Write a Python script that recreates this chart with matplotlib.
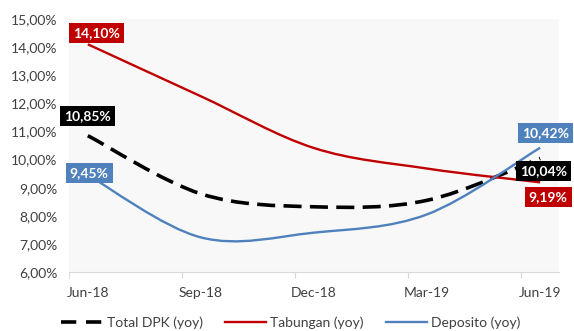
import matplotlib
matplotlib.use("Agg")
import matplotlib.pyplot as plt
from matplotlib.path import Path
from matplotlib.patches import PathPatch
from matplotlib.lines import Line2D
from matplotlib.ticker import FuncFormatter, FixedLocator

plt.rcParams['font.family'] = ['Lato', 'DejaVu Sans']
plt.rcParams['lines.scale_dashes'] = False

# Quarterly growth rates (% yoy), month index from Jun-18
months = [0, 3, 6, 9, 12]
tick_labels = ["Jun-18", "Sep-18", "Dec-18", "Mar-19", "Jun-19"]
total_dpk = [10.85, 8.78, 8.32, 8.55, 10.04]
tabungan = [14.10, 12.25, 10.41, 9.68, 9.19]
deposito = [9.45, 7.23, 7.40, 8.05, 10.42]

series_names = ["Total DPK (yoy)", "Tabungan (yoy)", "Deposito (yoy)"]
colors = ["#000000", "#C00000", "#4F81BD"]
dashes = [(0, (13.0, 6.0)), "-", "-"]
widths = [2.6, 1.7, 1.7]


def smooth_path(xs, ys):
    """Catmull-Rom style Bezier path through the points (spreadsheet smoothing)."""
    pts = list(zip(xs, ys))
    n = len(pts)
    verts = [pts[0]]
    codes = [Path.MOVETO]
    for i in range(n - 1):
        p0 = pts[i - 1] if i > 0 else pts[i]
        p1 = pts[i]
        p2 = pts[i + 1]
        p3 = pts[i + 2] if i + 2 < n else pts[i + 1]
        c1 = (p1[0] + (p2[0] - p0[0]) / 6, p1[1] + (p2[1] - p0[1]) / 6)
        c2 = (p2[0] - (p3[0] - p1[0]) / 6, p2[1] - (p3[1] - p1[1]) / 6)
        verts += [c1, c2, p2]
        codes += [Path.CURVE4] * 3
    return Path(verts, codes)


def pct(v):
    return f"{v:.2f}%".replace(".", ",")


fig = plt.figure(figsize=(5.74, 3.31), dpi=100)
ax = fig.add_axes([69 / 574, 1 - 272 / 331, 490 / 574, 253 / 331])
ax.set_facecolor("#F8F8F8")

all_series = [total_dpk, tabungan, deposito]
for k, ys in enumerate(all_series):
    patch = PathPatch(smooth_path(months, ys), facecolor="none",
                      edgecolor=colors[k], linewidth=widths[k],
                      linestyle=dashes[k], capstyle="butt", zorder=2 + k)
    ax.add_patch(patch)

ax.set_xlim(-0.5, 12.5)
ax.set_ylim(6, 15)
ax.set_yticks([6, 7, 8, 9, 10, 11, 12, 13, 14, 15])
ax.yaxis.set_major_formatter(FuncFormatter(lambda v, _: pct(v)))
ax.set_xticks(months)
ax.set_xticklabels(tick_labels)
ax.xaxis.set_minor_locator(FixedLocator([-0.5, 2.5, 5.5, 8.5, 11.5]))

for s in ["left", "right", "top"]:
    ax.spines[s].set_visible(False)
ax.spines["bottom"].set_color("#D9D9D9")
ax.spines["bottom"].set_linewidth(0.8)
ax.tick_params(axis="y", length=0, pad=8.5, labelsize=10, labelcolor="#404040")
ax.tick_params(axis="x", which="major", length=0, pad=11, labelsize=10,
               labelcolor="#404040")
ax.tick_params(axis="x", which="minor", length=4, width=0.8, color="#D9D9D9")

# Value labels at the first and last point of each series
label_offsets = {
    0: [(0, 14), (2.5, -9)],
    1: [(6.5, 8.3), (5.8, -10.6)],
    2: [(1, 1.5), (4, 10.6)],
}
for k, ys in enumerate(all_series):
    for j, idx in enumerate([0, len(ys) - 1]):
        ax.annotate(pct(ys[idx]), (months[idx], ys[idx]),
                    xytext=label_offsets[k][j], textcoords="offset points",
                    ha="center", va="center", fontsize=10, fontweight="bold",
                    color="white", zorder=10,
                    bbox=dict(boxstyle="square,pad=0.3", facecolor=colors[k],
                              edgecolor="none"))

handles = [Line2D([], [], color=colors[k], linewidth=widths[k],
                  linestyle=dashes[k], dash_capstyle="butt")
           for k in range(3)]
handles[0].set_dashes((11.0, 7.0))
fig.legend(handles, series_names, loc="center",
           bbox_to_anchor=(0.507, 1 - 323 / 331),
           ncol=3, frameon=False, fontsize=10, handlelength=3.0,
           handletextpad=0.3, columnspacing=1.55, labelcolor="#404040")

fig.savefig("out.png", dpi=100)
